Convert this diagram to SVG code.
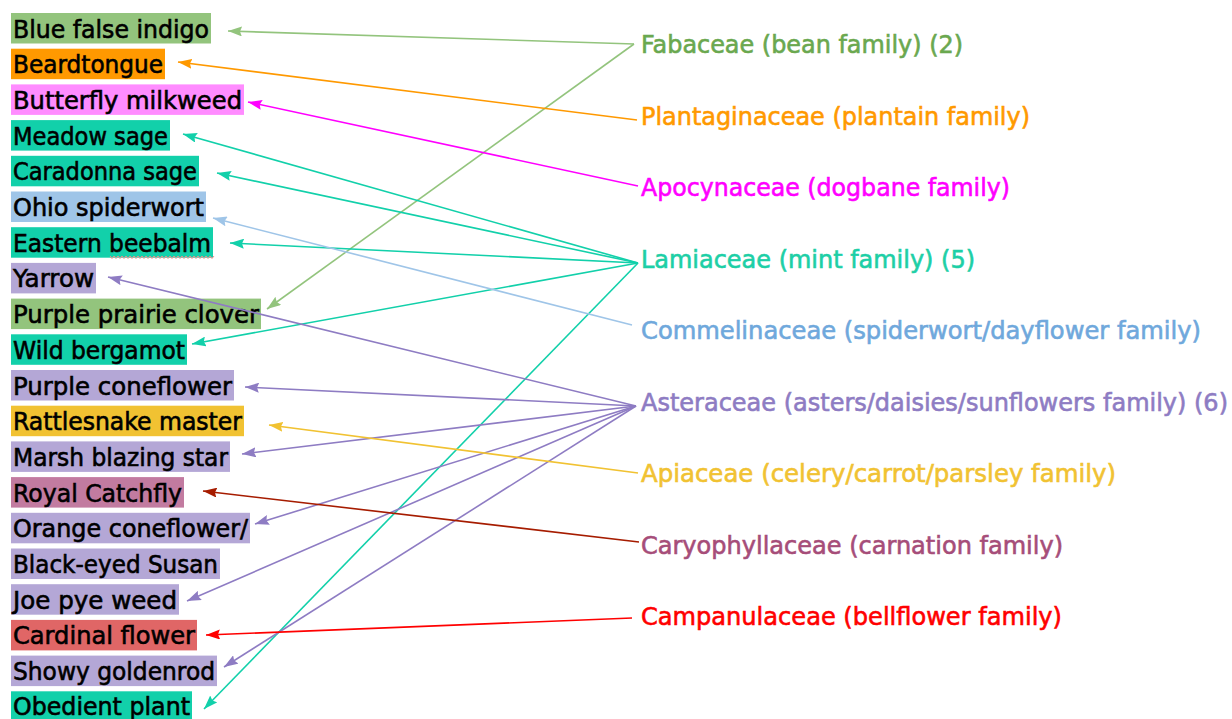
<svg xmlns="http://www.w3.org/2000/svg" width="1232" height="719" viewBox="0 0 1232 719">
<style>
  .lt { font-family: "DejaVu Sans", Verdana, sans-serif; font-size: 24px; fill: #000; stroke: #000; stroke-width: 0.6px; }
  .rt { font-family: "DejaVu Sans", Verdana, sans-serif; font-size: 24px; stroke-width: 0.6px; }
  .c { fill: none; stroke-width: 1.6; }
  .green { fill: #93c47d; } .orange { fill: #ff9900; } .pink { fill: #ff8cff; }
  .teal { fill: #12d0aa; } .lblue { fill: #9fc5e8; } .lav { fill: #b4a7d6; }
  .yellow { fill: #f1c232; } .mauve { fill: #c27ba0; } .coral { fill: #e06666; }
</style>
<defs>
  <marker id="aG" viewBox="0 0 14 10" refX="14" refY="5" markerWidth="14" markerHeight="10" markerUnits="userSpaceOnUse" orient="auto"><path d="M0,0L14,5L0,10L2,5z" fill="#93c47d"/></marker>
  <marker id="aO" viewBox="0 0 14 10" refX="14" refY="5" markerWidth="14" markerHeight="10" markerUnits="userSpaceOnUse" orient="auto"><path d="M0,0L14,5L0,10L2,5z" fill="#ff9900"/></marker>
  <marker id="aM" viewBox="0 0 14 10" refX="14" refY="5" markerWidth="14" markerHeight="10" markerUnits="userSpaceOnUse" orient="auto"><path d="M0,0L14,5L0,10L2,5z" fill="#ff00ff"/></marker>
  <marker id="aT" viewBox="0 0 14 10" refX="14" refY="5" markerWidth="14" markerHeight="10" markerUnits="userSpaceOnUse" orient="auto"><path d="M0,0L14,5L0,10L2,5z" fill="#12d0aa"/></marker>
  <marker id="aB" viewBox="0 0 14 10" refX="14" refY="5" markerWidth="14" markerHeight="10" markerUnits="userSpaceOnUse" orient="auto"><path d="M0,0L14,5L0,10L2,5z" fill="#9fc5e8"/></marker>
  <marker id="aP" viewBox="0 0 14 10" refX="14" refY="5" markerWidth="14" markerHeight="10" markerUnits="userSpaceOnUse" orient="auto"><path d="M0,0L14,5L0,10L2,5z" fill="#8e7cc3"/></marker>
  <marker id="aY" viewBox="0 0 14 10" refX="14" refY="5" markerWidth="14" markerHeight="10" markerUnits="userSpaceOnUse" orient="auto"><path d="M0,0L14,5L0,10L2,5z" fill="#f1c232"/></marker>
  <marker id="aR" viewBox="0 0 14 10" refX="14" refY="5" markerWidth="14" markerHeight="10" markerUnits="userSpaceOnUse" orient="auto"><path d="M0,0L14,5L0,10L2,5z" fill="#a61c00"/></marker>
  <marker id="aC" viewBox="0 0 14 10" refX="14" refY="5" markerWidth="14" markerHeight="10" markerUnits="userSpaceOnUse" orient="auto"><path d="M0,0L14,5L0,10L2,5z" fill="#ff0000"/></marker>
</defs>
<rect width="1232" height="719" fill="#fff"/>

<g id="plants">
  <g id="p0"><rect class="green" x="11" y="13" width="200" height="30.5"/><text class="lt" x="13" y="37.5" textLength="196" lengthAdjust="spacingAndGlyphs">Blue false indigo</text></g>
  <g id="p1"><rect class="orange" x="11" y="48.7" width="154" height="30.5"/><text class="lt" x="13" y="73.2" textLength="150" lengthAdjust="spacingAndGlyphs">Beardtongue</text></g>
  <g id="p2"><rect class="pink" x="11" y="84.4" width="233" height="30.5"/><text class="lt" x="13" y="108.9" textLength="229" lengthAdjust="spacingAndGlyphs">Butterfly milkweed</text></g>
  <g id="p3"><rect class="teal" x="11" y="120.1" width="159" height="30.5"/><text class="lt" x="13" y="144.6" textLength="155" lengthAdjust="spacingAndGlyphs">Meadow sage</text></g>
  <g id="p4"><rect class="teal" x="11" y="155.8" width="188" height="30.5"/><text class="lt" x="13" y="180.3" textLength="184" lengthAdjust="spacingAndGlyphs">Caradonna sage</text></g>
  <g id="p5"><rect class="lblue" x="11" y="191.5" width="195" height="30.5"/><text class="lt" x="13" y="216" textLength="191" lengthAdjust="spacingAndGlyphs">Ohio spiderwort</text></g>
  <g id="p6"><rect class="teal" x="11" y="227.2" width="202" height="30.5"/><text class="lt" x="13" y="251.7" textLength="198" lengthAdjust="spacingAndGlyphs">Eastern beebalm</text>
    <path d="M110,256 l2,2.5 l2,-2.5 l2,2.5 l2,-2.5 l2,2.5 l2,-2.5 l2,2.5 l2,-2.5 l2,2.5 l2,-2.5 l2,2.5 l2,-2.5 l2,2.5 l2,-2.5 l2,2.5 l2,-2.5 l2,2.5 l2,-2.5 l2,2.5 l2,-2.5 l2,2.5 l2,-2.5 l2,2.5 l2,-2.5 l2,2.5 l2,-2.5 l2,2.5 l2,-2.5 l2,2.5 l2,-2.5 l2,2.5 l2,-2.5 l2,2.5 l2,-2.5 l2,2.5 l2,-2.5 l2,2.5 l2,-2.5 l2,2.5 l2,-2.5 l2,2.5 l2,-2.5 l2,2.5 l2,-2.5 l2,2.5 l2,-2.5 l2,2.5 l2,-2.5 l2,2.5 l2,-2.5 l2,2.5 l2,-2.5" fill="none" stroke="#f08a8a" stroke-width="1"/></g>
  <g id="p7"><rect class="lav" x="11" y="262.9" width="85" height="30.5"/><text class="lt" x="13" y="287.4" textLength="81" lengthAdjust="spacingAndGlyphs">Yarrow</text></g>
  <g id="p8"><rect class="green" x="11" y="298.6" width="250" height="30.5"/><text class="lt" x="13" y="323.1" textLength="246" lengthAdjust="spacingAndGlyphs">Purple prairie clover</text></g>
  <g id="p9"><rect class="teal" x="11" y="334.3" width="176" height="30.5"/><text class="lt" x="13" y="358.8" textLength="172" lengthAdjust="spacingAndGlyphs">Wild bergamot</text></g>
  <g id="p10"><rect class="lav" x="11" y="370" width="223" height="30.5"/><text class="lt" x="13" y="394.5" textLength="219" lengthAdjust="spacingAndGlyphs">Purple coneflower</text></g>
  <g id="p11"><rect class="yellow" x="11" y="405.7" width="233" height="30.5"/><text class="lt" x="13" y="430.2" textLength="229" lengthAdjust="spacingAndGlyphs">Rattlesnake master</text></g>
  <g id="p12"><rect class="lav" x="11" y="441.4" width="219" height="30.5"/><text class="lt" x="13" y="465.9" textLength="215" lengthAdjust="spacingAndGlyphs">Marsh blazing star</text></g>
  <g id="p13"><rect class="mauve" x="11" y="477.1" width="173" height="30.5"/><text class="lt" x="13" y="501.6" textLength="169" lengthAdjust="spacingAndGlyphs">Royal Catchfly</text></g>
  <g id="p14"><rect class="lav" x="11" y="512.8" width="239" height="30.5"/><text class="lt" x="13" y="537.3" textLength="235" lengthAdjust="spacingAndGlyphs">Orange coneflower/</text></g>
  <g id="p15"><rect class="lav" x="11" y="548.5" width="209" height="30.5"/><text class="lt" x="13" y="573" textLength="205" lengthAdjust="spacingAndGlyphs">Black-eyed Susan</text></g>
  <g id="p16"><rect class="lav" x="11" y="584.2" width="168" height="30.5"/><text class="lt" x="13" y="608.7" textLength="164" lengthAdjust="spacingAndGlyphs">Joe pye weed</text></g>
  <g id="p17"><rect class="coral" x="11" y="619.9" width="186" height="30.5"/><text class="lt" x="13" y="644.4" textLength="182" lengthAdjust="spacingAndGlyphs">Cardinal flower</text></g>
  <g id="p18"><rect class="lav" x="11" y="655.6" width="206" height="30.5"/><text class="lt" x="13" y="680.1" textLength="202" lengthAdjust="spacingAndGlyphs">Showy goldenrod</text></g>
  <g id="p19"><rect class="teal" x="11" y="691.3" width="181" height="30.5"/><text class="lt" x="13" y="715.3" textLength="177" lengthAdjust="spacingAndGlyphs">Obedient plant</text></g>
</g>

<g id="families">
  <g id="f0"><text class="rt" x="641" y="52.5" fill="#6aa84f" stroke="#6aa84f" textLength="322" lengthAdjust="spacingAndGlyphs">Fabaceae (bean family) (2)</text></g>
  <g id="f1"><text class="rt" x="641" y="124.5" fill="#ff9900" stroke="#ff9900" textLength="389" lengthAdjust="spacingAndGlyphs">Plantaginaceae (plantain family)</text></g>
  <g id="f2"><text class="rt" x="641" y="195.5" fill="#ff00ff" stroke="#ff00ff" textLength="369" lengthAdjust="spacingAndGlyphs">Apocynaceae (dogbane family)</text></g>
  <g id="f3"><text class="rt" x="641" y="267.5" fill="#1dcfa6" stroke="#1dcfa6" textLength="334" lengthAdjust="spacingAndGlyphs">Lamiaceae (mint family) (5)</text></g>
  <g id="f4"><text class="rt" x="641" y="338.5" fill="#6fa8dc" stroke="#6fa8dc" textLength="560" lengthAdjust="spacingAndGlyphs">Commelinaceae (spiderwort/dayflower family)</text></g>
  <g id="f5"><text class="rt" x="641" y="410.5" fill="#8e7cc3" stroke="#8e7cc3" textLength="587" lengthAdjust="spacingAndGlyphs">Asteraceae (asters/daisies/sunflowers family) (6)</text></g>
  <g id="f6"><text class="rt" x="641" y="481.5" fill="#f1c232" stroke="#f1c232" textLength="475" lengthAdjust="spacingAndGlyphs">Apiaceae (celery/carrot/parsley family)</text></g>
  <g id="f7"><text class="rt" x="641" y="553.5" fill="#a64d79" stroke="#a64d79" textLength="422" lengthAdjust="spacingAndGlyphs">Caryophyllaceae (carnation family)</text></g>
  <g id="f8"><text class="rt" x="641" y="624.5" fill="#ff0000" stroke="#ff0000" textLength="421" lengthAdjust="spacingAndGlyphs">Campanulaceae (bellflower family)</text></g>
</g>

<g id="connectors">
  <line class="c" stroke="#93c47d" x1="634" y1="44" x2="228" y2="31" marker-end="url(#aG)"/>
  <line class="c" stroke="#93c47d" x1="634" y1="44" x2="267" y2="309" marker-end="url(#aG)"/>
  <line class="c" stroke="#ff9900" x1="637" y1="120" x2="178" y2="62" marker-end="url(#aO)"/>
  <line class="c" stroke="#ff00ff" x1="638" y1="186" x2="248" y2="102" marker-end="url(#aM)"/>
  <line class="c" stroke="#12d0aa" x1="638" y1="263" x2="183" y2="134" marker-end="url(#aT)"/>
  <line class="c" stroke="#12d0aa" x1="638" y1="263" x2="217" y2="173" marker-end="url(#aT)"/>
  <line class="c" stroke="#12d0aa" x1="638" y1="263" x2="230" y2="243" marker-end="url(#aT)"/>
  <line class="c" stroke="#12d0aa" x1="638" y1="263" x2="192" y2="344" marker-end="url(#aT)"/>
  <line class="c" stroke="#12d0aa" x1="638" y1="263" x2="204" y2="709" marker-end="url(#aT)"/>
  <line class="c" stroke="#9fc5e8" x1="632" y1="325" x2="213" y2="218" marker-end="url(#aB)"/>
  <line class="c" stroke="#8e7cc3" x1="636" y1="406" x2="108" y2="277" marker-end="url(#aP)"/>
  <line class="c" stroke="#8e7cc3" x1="636" y1="406" x2="245" y2="387" marker-end="url(#aP)"/>
  <line class="c" stroke="#8e7cc3" x1="636" y1="406" x2="242" y2="454" marker-end="url(#aP)"/>
  <line class="c" stroke="#8e7cc3" x1="636" y1="406" x2="255" y2="524" marker-end="url(#aP)"/>
  <line class="c" stroke="#8e7cc3" x1="636" y1="406" x2="187" y2="601" marker-end="url(#aP)"/>
  <line class="c" stroke="#8e7cc3" x1="636" y1="406" x2="224" y2="667" marker-end="url(#aP)"/>
  <line class="c" stroke="#f1c232" x1="638" y1="473" x2="269" y2="425" marker-end="url(#aY)"/>
  <line class="c" stroke="#a61c00" x1="639" y1="542" x2="203" y2="491" marker-end="url(#aR)"/>
  <line class="c" stroke="#ff0000" x1="632" y1="618" x2="206" y2="635" marker-end="url(#aC)"/>
</g>
</svg>
